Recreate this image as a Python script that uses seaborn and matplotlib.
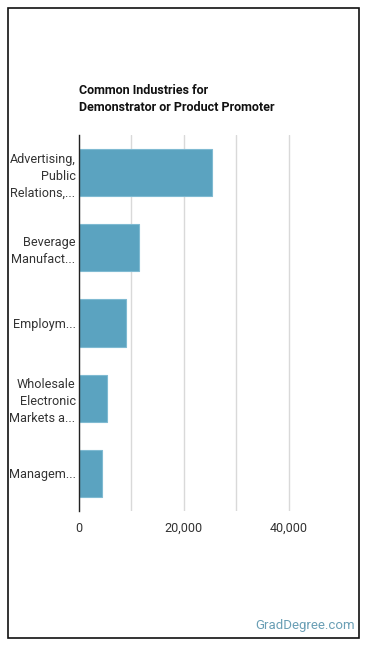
"""Common industries bar chart (GradDegree style)."""

import matplotlib
matplotlib.use("Agg")
import matplotlib.pyplot as plt
import pandas as pd
import seaborn as sns
from matplotlib.patches import Rectangle

industries = [
    "Advertising,\nPublic\nRelations,...",
    "Beverage\nManufact...",
    "Employm...",
    "Wholesale\nElectronic\nMarkets a...",
    "Managem...",
]
employees = [25400, 11450, 9000, 5350, 4400]

grid_ticks = [0, 10000, 20000, 30000, 40000]
tick_labels = ["0", "", "20,000", "", "40,000"]

title_text = "Common Industries for\nDemonstrator or Product Promoter"
source_text = "GradDegree.com"

sns.set_theme(style="white")
plt.rcParams["font.family"] = ["Roboto", "DejaVu Sans"]

df = pd.DataFrame({"industry": industries, "count": employees})

fig = plt.figure(figsize=(3.7, 6.48), dpi=100)
ax = fig.add_axes([0.2135, 0.2114, 0.708, 0.5803])

sns.barplot(data=df, x="count", y="industry", orient="h", color="#5ba3c0",
            saturation=1, width=0.63, edgecolor="#7fbad2", linewidth=0.8, ax=ax)

ax.set_xlim(0, 50000)
ax.set_xticks(grid_ticks)
ax.set_xticklabels(tick_labels)
ax.grid(axis="x", color="#d9d9d9", linewidth=1)
ax.set_axisbelow(True)

for side in ["top", "right", "bottom"]:
    ax.spines[side].set_visible(False)
ax.spines["left"].set_color("#222222")
ax.spines["left"].set_linewidth(1)

ax.set_xlabel("")
ax.set_ylabel("")
ax.tick_params(axis="both", length=0, labelsize=9.1, colors="#333333")
ax.tick_params(axis="x", pad=8)
ax.tick_params(axis="y", pad=2.5)
for lab in ax.get_yticklabels():
    lab.set_linespacing(1.4)

fig.text(79 / 370, 1 - 99 / 648, title_text, fontsize=9.0, fontweight="bold",
         color="#111111", ha="left", va="center", linespacing=1.45)
fig.text(355 / 370, 1 - 626 / 648, source_text, fontsize=9.5, color="#6a9fb5",
         ha="right", va="center")

fig.patches.append(Rectangle((8 / 370, 1 - 637.5 / 648), 351 / 370, 629.5 / 648,
                             transform=fig.transFigure, fill=False,
                             edgecolor="#111111", linewidth=1.2))

fig.savefig("out.png", dpi=100)
plt.close(fig)
